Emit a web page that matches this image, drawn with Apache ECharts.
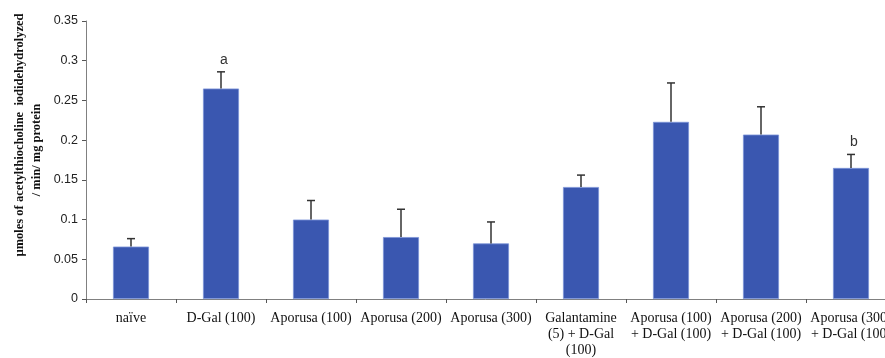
<!DOCTYPE html>
<html>
<head>
<meta charset="utf-8">
<script src="https://cdn.jsdelivr.net/npm/echarts@6/dist/echarts.min.js"></script>
<style>html,body{margin:0;padding:0;background:#fff}#c{width:885px;height:358px}</style>
</head>
<body>
<div id="c"></div>
<script>
const categories = ['naïve', 'D-Gal (100)', 'Aporusa (100)', 'Aporusa (200)', 'Aporusa (300)',
  'Galantamine\n(5) + D-Gal\n(100)', 'Aporusa (100)\n+ D-Gal (100)', 'Aporusa (200)\n+ D-Gal (100)', 'Aporusa (300)\n+ D-Gal (100)'];
const means = [0.066, 0.265, 0.100, 0.078, 0.070, 0.141, 0.223, 0.207, 0.165];
const errors = [0.010, 0.021, 0.024, 0.035, 0.027, 0.015, 0.049, 0.035, 0.017];
const annotations = ['', 'a', '', '', '', '', '', '', 'b'];
const yTicks = [0, 0.05, 0.1, 0.15, 0.2, 0.25, 0.3, 0.35];

const chart = echarts.init(document.getElementById('c'));
const errData = means.map((m, i) => [i, m, m + errors[i]]);
chart.setOption({
  animation: false,
  grid: { left: 86, top: 21, bottom: 59, width: 810, containLabel: false, outerBoundsMode: 'none' },
  xAxis: {
    type: 'category', data: categories,
    axisLine: { lineStyle: { color: '#808080', width: 1 } },
    axisTick: { show: true, length: 4, lineStyle: { color: '#555' } },
    axisLabel: { fontFamily: 'Liberation Serif', fontSize: 14, color: '#111', margin: 11, lineHeight: 16, interval: 0, hideOverlap: false }
  },
  yAxis: {
    type: 'value', min: 0, max: 0.35, interval: 0.05,
    splitLine: { show: false },
    axisLine: { show: true, lineStyle: { color: '#808080', width: 1 } },
    axisTick: { show: true, length: 4, lineStyle: { color: '#555' } },
    axisLabel: { fontFamily: 'Liberation Sans', fontSize: 12.5, color: '#222', margin: 8,
      formatter: v => { const t = yTicks.find(x => Math.abs(x - v) < 1e-9); return t === undefined ? '' : String(+t.toFixed(2)); } }
  },
  graphic: [
    { type: 'text', x: 20, y: 135, rotation: Math.PI / 2,
      style: { text: 'µmoles of acetylthiocholine  iodidehydrolyzed', font: 'bold 12.5px "Liberation Serif"', fill: '#111', align: 'center', verticalAlign: 'middle' } },
    { type: 'text', x: 37, y: 150, rotation: Math.PI / 2,
      style: { text: '/ min/ mg protein', font: 'bold 12.5px "Liberation Serif"', fill: '#111', align: 'center', verticalAlign: 'middle' } }
  ],
  series: [
    { type: 'bar', data: means, barWidth: '40%',
      itemStyle: { color: '#3A57B0', borderColor: '#7b93d8', borderWidth: 0.8 } },
    { type: 'custom', data: errData, z: 5,
      renderItem: (params, api) => {
        const i = api.value(0);
        const base = api.coord([i, api.value(1)]);
        const top = api.coord([i, api.value(2)]);
        const children = [
          { type: 'line', shape: { x1: base[0], y1: base[1], x2: top[0], y2: top[1] }, style: { stroke: '#333', lineWidth: 1.5 } },
          { type: 'line', shape: { x1: top[0] - 4, y1: top[1], x2: top[0] + 4, y2: top[1] }, style: { stroke: '#333', lineWidth: 1.5 } }
        ];
        const ann = annotations[params.dataIndex];
        if (ann) {
          children.push({ type: 'text', x: top[0] + 3, y: top[1] - 5,
            style: { text: ann, font: '14px "Liberation Sans"', fill: '#333', align: 'center', verticalAlign: 'bottom' } });
        }
        return { type: 'group', children };
      }
    }
  ]
});
</script>
</body>
</html>
